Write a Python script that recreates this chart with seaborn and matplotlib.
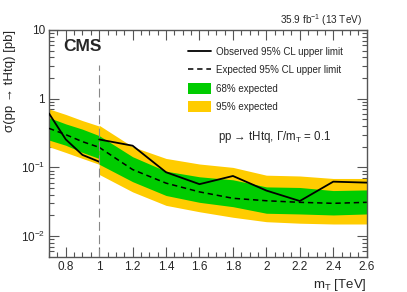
import numpy as np
import pandas as pd
import matplotlib
matplotlib.use("Agg")
import matplotlib.pyplot as plt
import seaborn as sns
from matplotlib.lines import Line2D
from matplotlib.patches import Patch
from matplotlib.ticker import MultipleLocator, LogLocator, FuncFormatter

# ---- data ----
mass_low = [0.7, 0.8, 0.9, 1.0]
obs_low = [0.61, 0.256, 0.152, 0.121]
exp_low = [0.37, 0.30, 0.237, 0.196]
g_up_low = [0.53, 0.43, 0.36, 0.29]
g_dn_low = [0.25, 0.21, 0.165, 0.135]
y_up_low = [0.71, 0.59, 0.48, 0.40]
y_dn_low = [0.20, 0.165, 0.135, 0.111]

mass_high = [1.0, 1.2, 1.4, 1.6, 1.8, 2.0, 2.2, 2.4, 2.6]
obs_high = [0.255, 0.207, 0.085, 0.057, 0.075, 0.046, 0.0324, 0.062, 0.060]
exp_high = [0.196, 0.093, 0.059, 0.044, 0.0355, 0.0327, 0.031, 0.030, 0.031]
g_up_high = [0.29, 0.143, 0.088, 0.073, 0.066, 0.052, 0.051, 0.046, 0.047]
g_dn_high = [0.111, 0.062, 0.039, 0.031, 0.0268, 0.0215, 0.021, 0.0203, 0.021]
y_up_high = [0.41, 0.20, 0.135, 0.112, 0.10, 0.077, 0.075, 0.069, 0.069]
y_dn_high = [0.079, 0.044, 0.028, 0.0226, 0.0188, 0.0162, 0.0154, 0.015, 0.015]

legend_labels = ["Observed 95% CL upper limit", "Expected 95% CL upper limit",
                 "68% expected", "95% expected"]

GREEN = "#00cc00"
YELLOW = "#ffcc00"

sns.set_style("ticks")
plt.rcParams["font.family"] = ["Liberation Sans", "DejaVu Sans"]
plt.rcParams["mathtext.fontset"] = "custom"
plt.rcParams["mathtext.rm"] = "Liberation Sans"
plt.rcParams["mathtext.it"] = "Liberation Sans:italic"

fig = plt.figure(figsize=(4.07, 2.92), dpi=100)
ax = fig.add_axes([49 / 407, 1 - 256.7 / 292, 317.7 / 407, 226.7 / 292])

segments = [
    (mass_low, obs_low, exp_low, g_up_low, g_dn_low, y_up_low, y_dn_low),
    (mass_high, obs_high, exp_high, g_up_high, g_dn_high, y_up_high, y_dn_high),
]
for m, o, e, gu, gd, yu, yd in segments:
    ax.fill_between(m, yd, yu, color=YELLOW, lw=0, zorder=1)
    ax.fill_between(m, gd, gu, color=GREEN, lw=0, zorder=2)
    df = pd.DataFrame({"m": m, "obs": o, "exp": e})
    sns.lineplot(data=df, x="m", y="exp", ax=ax, color="black", lw=1.1,
                 linestyle=(0, (3.5, 2.5)), zorder=3, legend=False)
    sns.lineplot(data=df, x="m", y="obs", ax=ax, color="black", lw=1.3,
                 zorder=4, legend=False)

ax.vlines(1.0, 0.005, 3.1, color="#888888", lw=0.8, linestyles=(0, (8, 4)), zorder=5)

ax.set_yscale("log")
ax.set_xlim(0.7, 2.6)
ax.set_ylim(10 ** -2.3, 10)

ax.xaxis.set_major_locator(MultipleLocator(0.2))
ax.xaxis.set_minor_locator(MultipleLocator(0.05))
ax.yaxis.set_major_locator(LogLocator(base=10, numticks=10))
ax.yaxis.set_minor_locator(LogLocator(base=10, subs=np.arange(2, 10), numticks=20))


def yfmt(v, pos):
    e = int(round(np.log10(v)))
    if e == 0:
        return "1"
    if e == 1:
        return "10"
    return r"$10^{%d}$" % e


def xfmt(v, pos):
    s = f"{v:.1f}"
    return s.rstrip("0").rstrip(".") if s.endswith(".0") else s


ax.yaxis.set_major_formatter(FuncFormatter(yfmt))
ax.xaxis.set_major_formatter(FuncFormatter(xfmt))
ax.tick_params(which="both", direction="in", top=True, right=True, width=0.8,
               color="#555555", labelsize=8.5, pad=3)
ax.tick_params(which="major", length=7)
ax.tick_params(which="minor", length=3.5)
for s in ax.spines.values():
    s.set_linewidth(1.0)
    s.set_color("#555555")

ax.set_xlabel(r"m$_{\mathregular{T}}$ [TeV]", fontsize=9.5, loc="right", labelpad=3)
ax.set_ylabel(r"σ(pp → tHtq) [pb]", fontsize=9.5, loc="top", labelpad=3)

ax.text(0.044, 0.962, "CMS", transform=ax.transAxes, fontsize=12.5, fontweight="bold",
        va="top", ha="left")
fig.text(362.5 / 407, 1 - 20.5 / 292, r"35.9 fb$^{\mathregular{-1}}$ (13 TeV)", fontsize=7.2,
         ha="right", va="center")
ax.text(0.532, 0.529, r"pp → tHtq, $\Gamma$/m$_{\mathregular{T}}$ = 0.1",
        transform=ax.transAxes, fontsize=8.3, ha="left", va="center")

handles = [Line2D([], [], color="black", lw=1.3),
           Line2D([], [], color="black", lw=1.1, linestyle=(0, (3.5, 2.5))),
           Patch(facecolor=GREEN, edgecolor="none"),
           Patch(facecolor=YELLOW, edgecolor="none")]
ax.legend(handles, legend_labels, loc="upper left", bbox_to_anchor=(0.425, 0.945),
          frameon=False, fontsize=7, handlelength=2.4, handleheight=1.3,
          labelspacing=0.8, handletextpad=0.5, borderaxespad=0)

fig.savefig("out.png", dpi=100)
